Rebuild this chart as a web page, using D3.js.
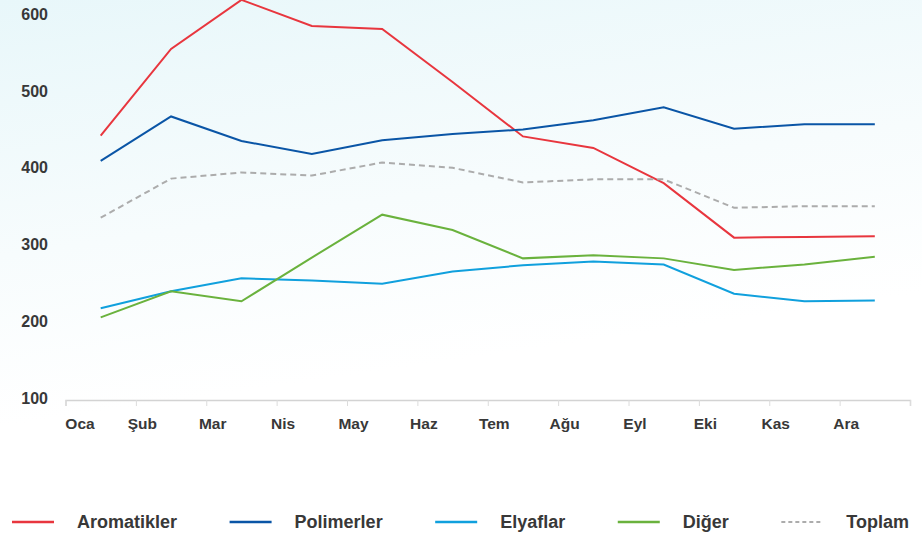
<!DOCTYPE html>
<html>
<head>
<meta charset="utf-8">
<script src="https://cdn.jsdelivr.net/npm/d3@7"></script>
<style>
  html, body { margin: 0; padding: 0; background: #fff; }
  svg { display: block; }
  text { font-family: "Liberation Sans", Arial, Helvetica, sans-serif; font-weight: bold; fill: #383838; }
</style>
</head>
<body>
<svg id="chart" width="922" height="536"></svg>
<script>
const months = ["Oca", "Şub", "Mar", "Nis", "May", "Haz", "Tem", "Ağu", "Eyl", "Eki", "Kas", "Ara"];
const yTicks = [100, 200, 300, 400, 500, 600];

const aromatikler = [444, 557, 621, 587, 583, 514, 443, 428, 382, 311, 312, 313];
const polimerler  = [411, 469, 437, 420, 438, 446, 452, 464, 481, 453, 459, 459];
const elyaflar    = [219, 241, 258, 255, 251, 267, 275, 280, 276, 238, 228, 229];
const diger       = [207, 241, 228, 285, 341, 321, 284, 288, 284, 269, 276, 286];
const toplam      = [337, 388, 396, 392, 409, 402, 383, 387, 387, 350, 352, 352];

const seriesNames = ["Aromatikler", "Polimerler", "Elyaflar", "Diğer", "Toplam"];
const seriesValues = [aromatikler, polimerler, elyaflar, diger, toplam];
const seriesColors = ["#e8363e", "#0a55a6", "#10a0dd", "#6ab23d", "#acacac"];
const seriesDash = [null, null, null, null, "6,4"];

const svg = d3.select("#chart");

// background tint
const defs = svg.append("defs");
const grad = defs.append("linearGradient").attr("id", "bg").attr("x1", 0).attr("y1", 0).attr("x2", 0.25).attr("y2", 1);
grad.append("stop").attr("offset", "0%").attr("stop-color", "#e8f7fa");
grad.append("stop").attr("offset", "45%").attr("stop-color", "#f7fcfd");
grad.append("stop").attr("offset", "75%").attr("stop-color", "#ffffff");
svg.append("rect").attr("width", 922).attr("height", 536).attr("fill", "url(#bg)");

const x = d3.scaleLinear().domain([-0.5, 11.5]).range([65.5, 910]);
const y = d3.scaleLinear().domain([100, 600]).range([399.5, 16]);

// x axis
const tickVals = d3.range(13).map(i => i - 0.5);
const xAxis = d3.axisBottom(x).tickValues(tickVals).tickSize(6).tickFormat("");
const gx = svg.append("g").attr("transform", "translate(0,400)").call(xAxis);
gx.select(".domain").attr("stroke", "#d3d3d3").attr("stroke-width", 1.5);
gx.selectAll(".tick line").attr("stroke", "#dcdcdc").attr("stroke-width", 1);

svg.append("g").selectAll("text").data(months).join("text")
  .attr("x", (d, i) => x(i - 0.5) + 6.5 + (i === 0 ? 8 : 0))
  .attr("y", 429)
  .attr("text-anchor", "middle")
  .attr("font-size", 15.5)
  .text(d => d);

// y labels
svg.append("g").selectAll("text").data(yTicks).join("text")
  .attr("x", 48)
  .attr("y", d => y(d) + 4)
  .attr("text-anchor", "end")
  .attr("font-size", 16)
  .text(d => d);

// lines
const line = d3.line().x((d, i) => x(i)).y(d => y(d));
seriesValues.forEach((vals, k) => {
  svg.append("path")
    .datum(vals)
    .attr("d", line)
    .attr("fill", "none")
    .attr("stroke", seriesColors[k])
    .attr("stroke-width", 2)
    .attr("stroke-linejoin", "miter")
    .attr("stroke-dasharray", seriesDash[k]);
});

// legend (justified between 12 and 909)
const lg = svg.append("g");
const items = seriesNames.map((name, k) => {
  const g = lg.append("g");
  g.append("line").attr("x1", 0).attr("x2", 42).attr("y1", 522).attr("y2", 522)
    .attr("stroke", seriesColors[k]).attr("stroke-width", k === 4 ? 2 : 2.5)
    .attr("stroke-dasharray", k === 4 ? "4,3" : null);
  const t = g.append("text").attr("x", 65).attr("y", 528).attr("font-size", 18).text(name);
  return { g, w: 65 + t.node().getComputedTextLength() };
});
const totalW = d3.sum(items, d => d.w);
const gap = (909 - 12 - totalW) / (items.length - 1);
let cx = 12;
items.forEach(it => { it.g.attr("transform", `translate(${cx},0)`); cx += it.w + gap; });
</script>
</body>
</html>
